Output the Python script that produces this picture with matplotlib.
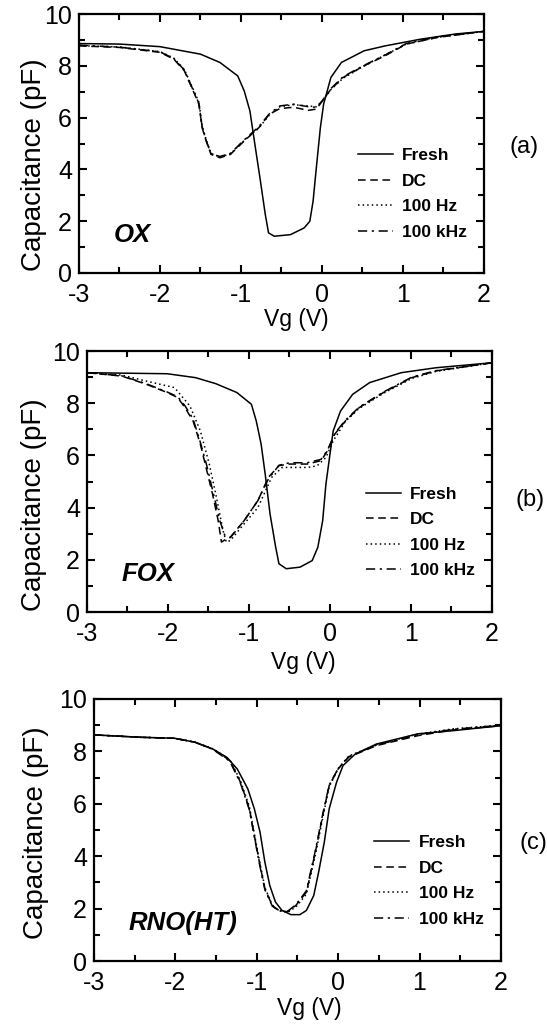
import matplotlib

matplotlib.use("Agg")

import matplotlib.pyplot as plt
from matplotlib.ticker import MultipleLocator

plt.rcParams["font.family"] = ["Liberation Sans", "DejaVu Sans"]
plt.rcParams["axes.unicode_minus"] = False

# ---- panel (a): OX ----
A_FRESH_V = [-3, -2.5, -2, -1.5, -1.26, -1.04, -0.96, -0.89, -0.83, -0.76, -0.70, -0.66, -0.59,
             -0.39, -0.22, -0.15, -0.11, -0.07, -0.02, 0.02, 0.11, 0.24, 0.52, 0.78, 1.22, 1.65, 2.0]
A_FRESH_C = [8.86, 8.84, 8.74, 8.45, 8.13, 7.61, 7.03, 6.26, 5.0, 3.55, 2.26, 1.55, 1.42,
             1.48, 1.74, 2.0, 2.77, 4.06, 5.61, 6.52, 7.55, 8.13, 8.58, 8.77, 9.03, 9.23, 9.33]
A_DC_V = [-3, -2.5, -2, -1.83, -1.7, -1.59, -1.52, -1.48, -1.43, -1.37, -1.26, -1.13, -0.96,
          -0.78, -0.65, -0.52, -0.35, -0.17, -0.07, 0.0, 0.11, 0.26, 0.52, 0.78, 1.04, 1.43, 2.0]
A_DC_C = [8.77, 8.71, 8.52, 8.26, 7.81, 7.03, 6.52, 5.61, 5.1, 4.58, 4.45, 4.58, 5.1,
          5.61, 6.13, 6.35, 6.4, 6.28, 6.33, 6.62, 7.1, 7.55, 8.0, 8.39, 8.84, 9.1, 9.33]
A_HZ_C = [8.78, 8.73, 8.55, 8.3, 7.86, 7.1, 6.6, 5.7, 5.15, 4.62, 4.48, 4.6, 5.12,
          5.6, 6.1, 6.42, 6.5, 6.45, 6.42, 6.62, 7.08, 7.52, 8.0, 8.42, 8.84, 9.1, 9.33]
A_KHZ_C = [8.8, 8.72, 8.54, 8.28, 7.84, 7.06, 6.55, 5.65, 5.12, 4.6, 4.5, 4.62, 5.14,
           5.65, 6.15, 6.45, 6.52, 6.42, 6.4, 6.64, 7.12, 7.58, 8.02, 8.42, 8.86, 9.12, 9.33]

# ---- panel (b): FOX ----
B_FRESH_V = [-3, -2.01, -1.66, -1.41, -1.15, -0.97, -0.91, -0.85, -0.80, -0.74, -0.67, -0.63, -0.54,
             -0.37, -0.22, -0.15, -0.09, -0.05, 0.0, 0.04, 0.13, 0.28, 0.49, 0.88, 1.31, 2.0]
B_FRESH_C = [9.17, 9.13, 8.98, 8.75, 8.41, 7.96, 7.32, 6.43, 5.29, 3.76, 2.48, 1.85, 1.66,
             1.72, 1.97, 2.48, 3.5, 4.9, 6.05, 6.94, 7.7, 8.34, 8.79, 9.17, 9.36, 9.55]
B_DC_V = [-3, -2.57, -2.27, -2.01, -1.88, -1.79, -1.69, -1.6, -1.53, -1.45, -1.38, -1.34, -1.28,
          -1.23, -1.06, -0.89, -0.76, -0.63, -0.5, -0.28, -0.11, -0.03, 0.06, 0.19, 0.36, 0.66,
          1.01, 1.31, 2.0]
B_DC_C = [9.17, 9.04, 8.73, 8.41, 8.22, 7.83, 7.32, 6.43, 5.54, 4.52, 3.5, 2.68, 2.8,
          2.87, 3.5, 4.27, 5.16, 5.61, 5.67, 5.67, 5.8, 6.18, 6.82, 7.32, 7.83, 8.41,
          8.98, 9.24, 9.55]
B_HZ_V = [-3, -2.57, -2.27, -1.92, -1.73, -1.6, -1.49, -1.41, -1.32, -1.28, -1.23, -1.06, -0.89,
          -0.72, -0.59, -0.28, -0.16, -0.05, 0.04, 0.19, 0.36, 0.66, 1.01, 1.31, 2.0]
B_HZ_C = [9.17, 9.08, 8.85, 8.6, 7.9, 6.94, 5.67, 4.52, 3.12, 2.68, 2.74, 3.38, 4.0,
          5.16, 5.54, 5.54, 5.6, 5.92, 6.56, 7.3, 7.8, 8.38, 8.95, 9.22, 9.55]
B_KHZ_V = [-3, -2.57, -2.27, -2.01, -1.88, -1.79, -1.69, -1.6, -1.52, -1.44, -1.36, -1.3, -1.23,
           -1.06, -0.89, -0.76, -0.63, -0.5, -0.28, -0.11, -0.03, 0.06, 0.19, 0.36, 0.66, 1.01,
           1.31, 2.0]
B_KHZ_C = [9.17, 9.05, 8.75, 8.43, 8.25, 7.9, 7.4, 6.5, 5.6, 4.55, 3.5, 2.95, 2.85,
           3.5, 4.27, 5.1, 5.62, 5.72, 5.72, 5.85, 6.2, 6.85, 7.35, 7.85, 8.43, 9.0,
           9.25, 9.55]

# ---- panel (c): RNO(HT) ----
C_FRESH_V = [-3, -2.44, -2.01, -1.76, -1.54, -1.37, -1.24, -1.11, -1.03, -0.96, -0.9, -0.84, -0.77,
             -0.69, -0.58, -0.47, -0.39, -0.3, -0.24, -0.17, -0.11, -0.02, 0.06, 0.21, 0.47, 0.98,
             1.41, 2.0]
C_FRESH_C = [8.63, 8.54, 8.5, 8.35, 8.09, 7.78, 7.33, 6.57, 5.81, 4.92, 3.77, 2.88, 2.25,
             1.93, 1.77, 1.77, 1.93, 2.5, 3.39, 4.54, 5.81, 6.82, 7.46, 7.9, 8.28, 8.67,
             8.79, 8.98]
C_DC_V = [-3, -2.44, -2.01, -1.76, -1.54, -1.33, -1.2, -1.09, -1.03, -0.96, -0.9, -0.81, -0.73,
          -0.62, -0.52, -0.39, -0.28, -0.19, -0.11, 0.0, 0.13, 0.47, 0.98, 1.41, 2.0]
C_DC_C = [8.63, 8.54, 8.5, 8.35, 8.09, 7.65, 6.82, 5.81, 4.79, 3.65, 2.76, 2.12, 1.93,
          1.88, 2.12, 2.63, 4.16, 5.55, 6.7, 7.33, 7.78, 8.22, 8.6, 8.82, 8.98]
C_HZ_C = [8.63, 8.54, 8.5, 8.36, 8.1, 7.68, 6.88, 5.88, 4.86, 3.72, 2.8, 2.14, 1.92,
          1.86, 2.06, 2.55, 4.05, 5.45, 6.65, 7.35, 7.82, 8.26, 8.66, 8.86, 9.0]
C_KHZ_C = [8.63, 8.54, 8.5, 8.35, 8.08, 7.62, 6.78, 5.76, 4.74, 3.6, 2.72, 2.1, 1.92,
           1.9, 2.15, 2.68, 4.22, 5.6, 6.72, 7.34, 7.8, 8.24, 8.64, 8.84, 9.0]

SERIES = ["Fresh", "DC", "100 Hz", "100 kHz"]
PANELS = [
    ("OX", "(a)",
     [(A_FRESH_V, A_FRESH_C), (A_DC_V, A_DC_C), (A_DC_V, A_HZ_C), (A_DC_V, A_KHZ_C)]),
    ("FOX", "(b)",
     [(B_FRESH_V, B_FRESH_C), (B_DC_V, B_DC_C), (B_HZ_V, B_HZ_C), (B_KHZ_V, B_KHZ_C)]),
    ("RNO(HT)", "(c)",
     [(C_FRESH_V, C_FRESH_C), (C_DC_V, C_DC_C), (C_DC_V, C_HZ_C), (C_DC_V, C_KHZ_C)]),
]

# layout (figure fractions) and label placement per panel
AX_RECTS = [
    [0.1444, 0.7334, 0.7404, 0.2529],
    [0.1590, 0.4023, 0.7404, 0.2549],
    [0.1718, 0.0615, 0.7440, 0.2559],
]
YLABEL_POS = [(-0.080, 0.42), (-0.099, 0.41), (-0.111, 0.49)]
XLABEL_POS = [(0.536, -0.137), (0.533, -0.148), (0.53, -0.139)]
TAG_POS = [(0.932, 0.856), (0.943, 0.512), (0.949, 0.177)]

LINE_STYLES = [
    dict(linestyle="-"),
    dict(linestyle=(0, (5, 3))),
    dict(linestyle=(0, (1, 2))),
    dict(linestyle=(0, (6, 3, 1.5, 3))),
]

fig = plt.figure(figsize=(5.47, 10.24), dpi=100)
fig.patch.set_facecolor("white")

for i, (sample, tag, curves) in enumerate(PANELS):
    ax = fig.add_axes(AX_RECTS[i])
    for (v, c), name, style in zip(curves, SERIES, LINE_STYLES):
        ax.plot(v, c, color="black", linewidth=1.1, label=name, **style)

    ax.set_xlim(-3, 2)
    ax.set_ylim(0, 10)
    ax.xaxis.set_major_locator(MultipleLocator(1))
    ax.xaxis.set_minor_locator(MultipleLocator(0.5))
    ax.yaxis.set_major_locator(MultipleLocator(2))
    ax.yaxis.set_minor_locator(MultipleLocator(1))
    ax.tick_params(which="both", direction="in", top=True, right=True, width=1.5)
    ax.tick_params(which="major", length=6, labelsize=18)
    ax.tick_params(which="minor", length=4)
    ax.tick_params(axis="x", which="major", pad=7)
    ax.tick_params(axis="y", which="major", pad=5)
    for spine in ax.spines.values():
        spine.set_linewidth(1.6)

    ax.set_ylabel("Capacitance (pF)", fontsize=20)
    ax.yaxis.set_label_coords(*YLABEL_POS[i])
    ax.set_xlabel("Vg (V)", fontsize=16.5)
    ax.xaxis.set_label_coords(*XLABEL_POS[i])

    ax.text(0.085, 0.145, sample, transform=ax.transAxes, fontsize=18.5,
            fontweight="bold", fontstyle="italic", va="center", ha="left")

    ax.legend(loc="center left", bbox_to_anchor=(0.689, 0.305), frameon=False,
              prop=dict(size=12.5, weight="bold"), handlelength=2.0,
              handletextpad=0.55, labelspacing=0.6, borderpad=0, borderaxespad=0)

    fig.text(TAG_POS[i][0], TAG_POS[i][1], tag, fontsize=17, ha="left", va="center")

fig.savefig("out.png", dpi=100)
